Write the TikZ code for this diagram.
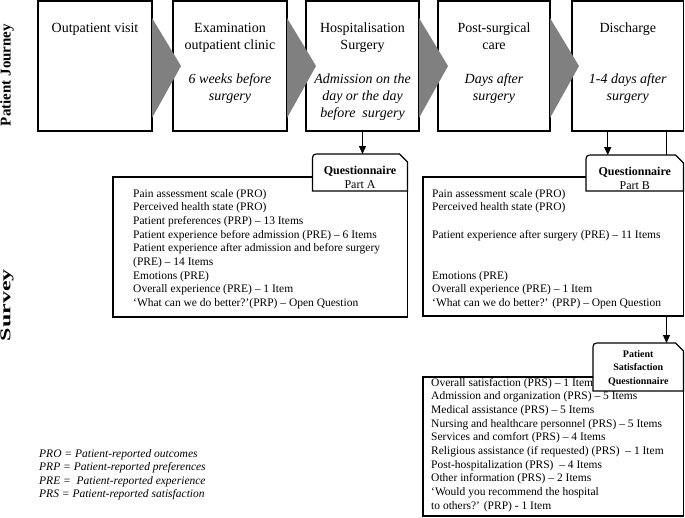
\documentclass[tikz,border=0pt]{standalone}
\usepackage{fontspec}
\setmainfont{Liberation Serif}
\usetikzlibrary{arrows.meta,calc}
\begin{document}
\begin{tikzpicture}[x=1pt,y=-1pt,
  stagebox/.style={draw,line width=1.8pt,fill=white,inner sep=0pt,outer sep=0pt,minimum height=130pt,anchor=north west},
  stitle/.style={font=\fontsize{14}{17}\selectfont,align=center,inner sep=0pt,anchor=base},
  stime/.style={font=\itshape\fontsize{14}{17}\selectfont,align=center,inner sep=0pt,anchor=base},
  qbox/.style={draw,line width=1.2pt,fill=white,inner sep=0pt,outer sep=0pt,anchor=north west},
  tabframe/.style={inner sep=0pt,outer sep=0pt,anchor=north west},
  tabline/.style={draw,line width=1.2pt,fill=white},
  listtext/.style={font=\fontsize{11.5}{13.7}\selectfont,align=left,inner sep=0pt,anchor=base west},
  tabtext/.style={font=\fontsize{12}{14.5}\selectfont,align=center,inner sep=0pt,anchor=base},
  pstext/.style={font=\bfseries\fontsize{10}{13.5}\selectfont,align=center,inner sep=0pt,anchor=base},
  conn/.style={line width=1.2pt,-{Triangle[length=8pt,width=7pt]}},
  chevron/.style={fill=black!50},
  sidelabel/.style={font=\bfseries\fontsize{15}{18}\selectfont,rotate=90,inner sep=0pt}
]
\useasboundingbox (0,0) rectangle (685,517);

% side labels
\node[sidelabel] (pj) at (7,75) {Patient Journey};
\node[sidelabel] (sv) at (7,305) {\scalebox{1.6}[1]{Survey}};

% stage boxes
\node[stagebox,minimum width=114pt] (s1) at (38,1) {};
\node[stagebox,minimum width=114pt] (s2) at (173,1) {};
\node[stagebox,minimum width=113pt] (s3) at (306,1) {};
\node[stagebox,minimum width=112pt] (s4) at (438,1) {};
\node[stagebox,minimum width=111.5pt] (s5) at (572,1) {};

% chevrons between stages
\foreach \a in {s1,s2,s3,s4}{
  \fill[chevron] ($(\a.north east)+(0,17)$) -- ($(\a.east)+(29,0)$) -- ($(\a.south east)+(0,-13)$) -- cycle;
}

% stage texts (anchor = baseline of last line)
\node[stitle] (t1) at (s1.north |- 0,32) {Outpatient visit};
\node[stitle] (t2) at (s2.north |- 0,49) {Examination\\outpatient clinic};
\node[stime]  (i2) at (s2.north |- 0,100) {6 weeks before\\surgery};
\node[stitle] (t3) at (s3.north |- 0,49) {Hospitalisation\\Surgery};
\node[stime]  (i3) at (s3.north |- 0,117) {Admission on the\\day or the day\\before\ \ surgery};
\node[stitle] (t4) at (s4.north |- 0,49) {Post-surgical\\care};
\node[stime]  (i4) at (s4.north |- 0,100) {Days after\\surgery};
\node[stitle] (t5) at (s5.north |- 0,32) {Discharge};
\node[stime]  (i5) at (s5.north |- 0,100) {1-4 days after\\surgery};

% frames of the tabs (invisible, for anchors)
\node[tabframe,minimum width=95pt,minimum height=37pt] (ta) at (312.5,154) {};
\node[tabframe,minimum width=97.5pt,minimum height=36pt] (tb) at (586,155) {};
\node[tabframe,minimum width=90.5pt,minimum height=48pt] (tp) at (593,343) {};

% long connector from Discharge to satisfaction questionnaire (behind boxes)
\coordinate (r) at ($(s5.south east)+(-17,0)$);
\draw[conn] (r) -- (r |- tp.north);

% questionnaire boxes
\node[qbox,minimum width=294.5pt,minimum height=140pt] (ba) at (113,177) {};
\node[qbox,minimum width=260.5pt,minimum height=139pt] (bb) at (423,177) {};
\node[qbox,minimum width=260.5pt,minimum height=139pt] (bp) at (423,377) {};

% tabs
\foreach \t in {ta,tb,tp}{
  \draw[tabline] (\t.south west) -- ($(\t.north west)+(0,8)$) .. controls (\t.north west) .. ($(\t.north west)+(8,0)$)
     -- ($(\t.north east)+(-8,0)$) -- ($(\t.north east)+(0,8)$) -- (\t.south east) -- cycle;
}

% tab texts
\node[tabtext] (qa) at (ta.north |- 0,188.5) {\textbf{Questionnaire}\\Part A};
\node[tabtext] (qb) at (tb.north |- 0,189.5) {\textbf{Questionnaire}\\Part B};
\node[pstext] (qp) at (tp.north |- 0,384) {Patient\\Satisfaction\\Questionnaire};

% connectors into the tabs
\draw[conn] (s3.south) -- (s3.south |- ta.north);
\coordinate (d) at ($(s5.south)+(-20,0)$);
\draw[conn] (d) -- (d |- tb.north);

% lists
\node[listtext] (la) at (133,306.6) {Pain assessment scale (PRO)\\Perceived health state (PRO)\\Patient preferences (PRP) -- 13 Items\\Patient experience before admission (PRE) -- 6 Items\\Patient experience after admission and before surgery\\(PRE) -- 14 Items\\Emotions (PRE)\\Overall experience (PRE) -- 1 Item\\`What can we do better?'(PRP) -- Open Question};
\node[listtext] (lb) at (432,306.6) {Pain assessment scale (PRO)\\Perceived health state (PRO)\\\strut\\Patient experience after surgery (PRE) -- 11 Items\\\strut\\\strut\\Emotions (PRE)\\Overall experience (PRE) -- 1 Item\\`What can we do better?' (PRP) -- Open Question};
\node[listtext] (lp) at (431,509.3) {Overall satisfaction (PRS) -- 1 Item\\Admission and organization (PRS) -- 5 Items\\Medical assistance (PRS) -- 5 Items\\Nursing and healthcare personnel (PRS) -- 5 Items\\Services and comfort (PRS) -- 4 Items\\Religious assistance (if requested) (PRS)\ \ -- 1 Item\\Post-hospitalization (PRS)\ \ -- 4 Items\\Other information (PRS) -- 2 Items\\`Would you recommend the hospital\\to others?' (PRP) - 1 Item};

% legend
\node[listtext,font=\itshape\fontsize{11.5}{13.5}\selectfont] (lg) at (39,497.5) {PRO = Patient-reported outcomes\\PRP = Patient-reported preferences\\PRE =\ \ Patient-reported experience\\PRS = Patient-reported satisfaction};
\end{tikzpicture}
\end{document}
